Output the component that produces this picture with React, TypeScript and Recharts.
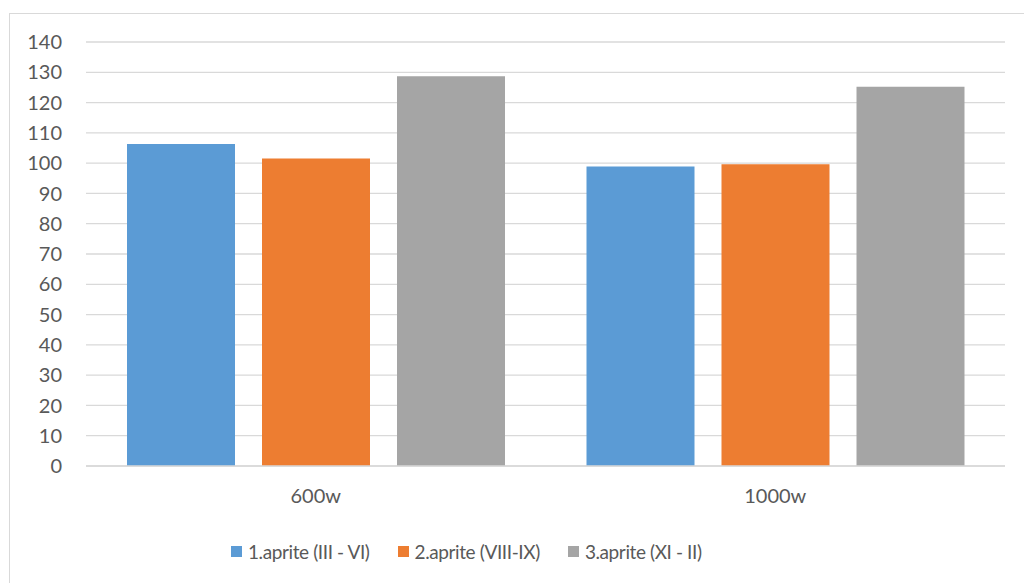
import { BarChart, Bar, XAxis, YAxis, CartesianGrid } from 'recharts';

const categories = ['600w', '1000w'];
const aprite1 = [106.3, 98.9];
const aprite2 = [101.5, 99.6];
const aprite3 = [128.7, 125.2];
const yTicks = [0, 10, 20, 30, 40, 50, 60, 70, 80, 90, 100, 110, 120, 130, 140];

const series = [
  { key: 'a1', name: '1.aprite (III - VI)', color: '#5B9BD5' },
  { key: 'a2', name: '2.aprite (VIII-IX)', color: '#ED7D31' },
  { key: 'a3', name: '3.aprite (XI - II)', color: '#A5A5A5' },
];

const data = categories.map((c, i) => ({
  name: c,
  a1: aprite1[i],
  a2: aprite2[i],
  a3: aprite3[i],
}));

const font = 'Lato, "Open Sans", sans-serif';
const tick = { fontSize: 20, fill: '#595959', fontFamily: font };

export default function App() {
  return (
    <div style={{ position: 'relative', width: 1024, height: 583, overflow: 'hidden', background: '#fff' }}>
      <style>{'body{margin:0}'}</style>
      {/* outer chart frame, only left and top edges fall inside the view */}
      <div
        style={{
          position: 'absolute',
          left: 9,
          top: 13,
          width: 1040,
          height: 600,
          border: '1px solid #d9d9d9',
        }}
      />
      <div style={{ position: 'absolute', left: 0, top: 0 }}>
        <BarChart
          width={1024}
          height={583}
          data={data}
          margin={{ top: 42, right: 19, left: 0, bottom: 87 }}
          barSize={108}
          barGap={27}
        >
          <CartesianGrid vertical={false} stroke="#d9d9d9" strokeWidth={1.3} />
          <XAxis
            dataKey="name"
            height={30}
            tickLine={false}
            tickSize={0}
            tickMargin={23}
            axisLine={{ stroke: '#d9d9d9', strokeWidth: 1.3 }}
            tick={tick}
          />
          <YAxis
            width={86}
            domain={[0, 140]}
            ticks={yTicks}
            interval={0}
            axisLine={false}
            tickLine={false}
            tickSize={0}
            tickMargin={24}
            tick={tick}
          />
          {series.map((s) => (
            <Bar key={s.key} dataKey={s.key} name={s.name} fill={s.color} isAnimationActive={false} />
          ))}
        </BarChart>
      </div>
      <div
        style={{
          position: 'absolute',
          top: 540,
          left: 231,
          display: 'flex',
          gap: 28,
          fontFamily: font,
          fontSize: 19,
          letterSpacing: -0.4,
          color: '#595959',
        }}
      >
        {series.map((s) => (
          <div key={s.key} style={{ display: 'flex', alignItems: 'center' }}>
            <span style={{ width: 11, height: 11, background: s.color, marginRight: 6, display: 'inline-block' }} />
            <span>{s.name}</span>
          </div>
        ))}
      </div>
    </div>
  );
}
